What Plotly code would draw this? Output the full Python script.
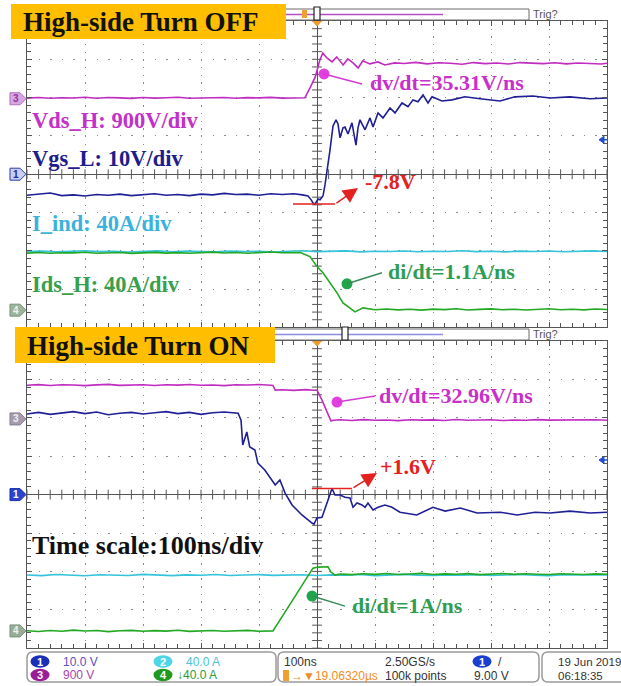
import numpy as np
import plotly.graph_objects as go

W, H = 621, 686

# ---------------- channel settings (units per division, offset in divisions) ----------------
SCALE = {"ch1": 10.0, "ch2": 40.0, "ch3": 900.0, "ch4": 40.0}
OFFSET = {"ch1": 0.0, "ch2": -3.55, "ch3": 1.97, "ch4": -3.55}

# ---------------- High-side turn OFF (time in ns) ----------------
off_t_vds = [-500, -480, -460, -440, -420, -400, -380, -360, -340, -320, -300, -280, -260,
             -240, -220, -200, -180, -160, -140, -120, -100, -80, -60, -40, -30, -21,
             -12, -3, 5, 10, 17, 26, 34, 45, 53, 62, 71, 79, 91, 105, 117, 134,
             150, 170, 190, 210, 230, 250, 270, 290, 310, 330, 350, 370, 390, 410, 430,
             450, 470, 490, 500]
off_vds = [15, 30, 10, 25, 18, 35, 12, 28, 20, 8, 30, 15, 25, 35, 10, 22, 18, 30, 12, 26,
           20, 32, 15, 25, 18, 22,
           255, 513, 913, 1077, 960, 866, 984, 795, 936, 842, 725, 890, 819, 866, 795, 842,
           830, 855, 820, 845, 835, 810, 850, 825, 840, 815, 850, 830, 825, 845, 820, 840,
           830, 815, 835]

off_t_vgs = [-500, -480, -460, -440, -420, -400, -380, -360, -340, -320, -300, -280, -260,
             -240, -220, -200, -180, -160, -140, -120, -100, -80, -60, -40, -25,
             -15.5, -10, -7, -3.4, 1.7, 5.2, 10.3, 13.8, 17.2, 22.4,
             27.6, 32.8, 36.2, 39.7, 44.8, 48.3, 53.4, 60.3, 67.2, 70.7,
             74.1, 82.8, 91.4, 96.6, 105.2, 113.8, 125.9, 134.5, 146.6, 156.9,
             165.5, 174.1, 182.8, 191.4, 198.3, 215.5, 232.8, 255, 281, 315.5,
             341, 372, 402, 436, 471, 500]
off_vgs = [-5.5, -5.2, -4.9, -5.6, -5.4, -5.7, -5.3, -5.5, -5.2, -5.6,
           -5.4, -5.1, -5.5, -5.3, -5.6, -5.2, -5.4, -5.0, -5.3, -5.2,
           -5.5, -5.1, -5.3, -5.1, -5.4,
           -5.7, -6.7, -7.5, -7.8, -6.5, -6.7, -5.7, -2.8, 0.6, 6.3,
           12.6, 14.2, 13.1, 9.5, 12.1, 12.3, 10.5, 13.4, 7.6, 12.1,
           14.2, 11.6, 14.7, 12.3, 16.0, 14.7, 17.3, 16.0, 18.6, 17.6,
           19.4, 18.9, 20.7, 18.6, 20.2, 19.1, 19.4, 20.2, 19.7, 19.1,
           20.2, 20.4, 19.9, 20.2, 19.7, 19.9]

t_step25 = [-500, -475, -450, -425, -400, -375, -350, -325, -300, -275, -250, -225, -200,
            -175, -150, -125, -100, -75, -50, -25, 0, 25, 50, 75, 100, 125, 150, 175, 200,
            225, 250, 275, 300, 325, 350, 375, 400, 425, 450, 475, 500]
off_iind = [61.2, 61.8, 60.9, 61.5, 62.0, 61.1, 61.6, 60.8, 61.4, 61.9,
            61.0, 61.7, 61.3, 60.9, 61.8, 61.2, 61.5, 60.8, 61.6, 62.0,
            61.1, 61.4, 61.9, 60.9, 61.5, 61.2, 61.8, 61.0, 61.6, 61.3,
            62.0, 61.1, 61.5, 60.9, 61.7, 61.2, 61.8, 61.0, 61.4, 61.9, 61.3]

off_t_ids = [-500, -480, -460, -440, -420, -400, -380, -360, -340, -320, -300, -280, -260,
             -240, -220, -200, -180, -160, -140, -120, -100, -80, -60, -40, -29,
             -12.1, 0, 10.3, 22.4, 34.5, 44.8, 56.9, 65.5, 79.3,
             100, 120, 140, 160, 180, 200, 220, 240, 260, 280, 300, 320, 340, 360, 380,
             400, 420, 440, 460, 480, 500]
off_ids = [59.6, 60.2, 59.4, 60.0, 59.8, 60.5, 59.5, 59.9, 60.3, 59.3,
           59.8, 60.4, 59.6, 60.1, 59.4, 60.0, 60.6, 59.7, 60.2, 59.5,
           60.0, 60.7, 59.9, 60.4, 60.2,
           56.0, 45.5, 39.0, 28.5, 18.1, 7.6, 2.4, -1.8, 2.4,
           0.5, 1.2, 0.3, 0.9, 0.0, 1.1, 0.6, 1.4, 0.2, 0.8,
           1.3, 0.4, 1.0, 0.1, 0.9, 1.5, 0.5, 1.0, 0.3, 1.2, 0.7]

# ---------------- High-side turn ON (time in ns) ----------------
on_t_vds = [-500, -480, -460, -440, -420, -400, -380, -360, -340, -320, -300, -280, -260,
            -240, -220, -200, -180, -160, -140, -120, -100, -80,
            -76, -72, -60, -40, -20, -5, 0, 8.6, 17.2, 24.1, 28,
            40, 60, 80, 100, 120, 140, 160, 180, 200, 220, 240, 260, 280, 300, 320, 340,
            360, 380, 400, 420, 440, 460, 480, 500]
on_vds = [790, 805, 785, 800, 795, 780, 798, 810, 788, 795, 802, 785, 800, 792, 808, 790,
          796, 782, 800, 794, 806, 790,
          785, 676, 684, 670, 688, 672, 676, 442, 160, -50, -30,
          -20, -35, -15, -30, -25, -40, -18, -28, -22, -35, -12, -30, -25, -20, -38, -24,
          -30, -15, -28, -22, -33, -26, -18, -30]

on_t_vgs = [-500, -480, -460, -440, -420, -400, -380, -360, -340, -320, -300, -280, -260,
            -240, -220, -200, -180, -160, -140,
            -136, -131, -128, -121, -116, -107, -102, -90, -78, -72,
            -64, -55, -43, -26, -8.6, -5.2, 0, 8.6, 17.2, 25.9,
            31, 39.7, 48.3, 56.9, 62.1, 69, 77.6, 82.8, 87.9, 96.6,
            105.2, 117.2, 129.3, 143, 172, 200, 221, 247, 276, 316,
            345, 376, 402, 436, 471, 500]
on_vgs = [21.0, 21.4, 20.9, 21.3, 21.6, 21.1, 21.5, 20.8, 21.2, 21.4,
          21.0, 21.3, 21.6, 21.1, 21.4, 20.9, 21.3, 21.5, 21.2,
          21.2, 19.4, 12.9, 16.3, 12.4, 11.6, 8.2, 6.4, 3.8, 2.5,
          3.8, 0.4, -2.7, -5.3, -7.4, -7.7, -6.1, -5.9, -2.2, 1.6,
          -0.1, -0.1, -0.7, -0.9, -3.3, -2.2, -2.7, -3.3, -2.2, -4.0,
          -3.3, -2.7, -3.3, -4.6, -5.3, -3.3, -4.3, -3.5, -4.8, -4.6,
          -5.3, -4.6, -4.8, -4.3, -4.8, -4.6]

on_iind = [58.3, 57.6, 58.7, 58.0, 57.5, 58.5, 58.1, 57.8, 58.9, 58.2,
           57.6, 58.4, 58.0, 58.8, 57.7, 58.3, 58.6, 57.9, 58.1, 58.5,
           57.8, 58.4, 58.0, 58.7, 57.6, 58.2, 58.9, 58.1, 57.7, 58.4,
           58.0, 58.6, 57.9, 58.3, 58.8, 58.0, 57.6, 58.5, 58.2, 57.9, 58.3]

on_t_ids = [-500, -480, -460, -440, -420, -400, -380, -360, -340, -320, -300, -280, -260,
            -240, -220, -200, -180, -160, -140, -120, -100, -80,
            -76, -59, -41, -24, -7, 2, 19, 24, 31,
            40, 60, 80, 100, 120, 140, 160, 180, 200, 220, 240, 260, 280, 300, 320, 340,
            360, 380, 400, 420, 440, 460, 480, 500]
on_ids = [0.2, -0.6, 0.5, -0.3, 0.8, -0.1, 0.4, -0.7, 0.1, 0.6,
          -0.4, 0.3, -0.2, 0.7, -0.5, 0.2, 0.5, -0.4, 0.0, 0.6, -0.3, 0.3,
          0.0, 16.0, 33.0, 48.5, 65.4, 66.5, 66.8, 61.3, 58.1,
          59.2, 58.6, 59.5, 58.9, 59.8, 58.7, 59.3, 59.9, 58.8, 59.4,
          59.0, 59.7, 58.6, 59.3, 59.8, 58.9, 59.5, 59.1, 58.7, 59.6,
          59.2, 58.8, 59.4, 59.0]

# annotated values
off_vgs_min = -7.8
on_vgs_peak = 1.6
trig_level = 9.0

for a, b in [(off_t_vds, off_vds), (off_t_vgs, off_vgs), (t_step25, off_iind),
             (off_t_ids, off_ids), (on_t_vds, on_vds), (on_t_vgs, on_vgs),
             (t_step25, on_iind), (on_t_ids, on_ids)]:
    assert len(a) == len(b), (len(a), len(b))

# ---------------- colours ----------------
C1 = "#1f1f96"      # ch1 navy
C2 = "#34c3da"      # ch2 cyan
C3 = "#c02cc0"      # ch3 magenta
C4 = "#22a822"      # ch4 green
RED = "#e3211f"
GRID = "#8a8a8a"
FRAME = "#555555"
SERIF = "Liberation Serif"
SANS = "Liberation Sans"


def xp(x):
    return x / W


def yp(y):
    return 1 - y / H


# plot panels (pixel boundaries)
LEFT, RIGHT = 27, 607
TOP_PANEL = (21.0, 327.4)
BOT_PANEL = (341.0, 648.2)


def ch_range(ch):
    return [(-4 - OFFSET[ch]) * SCALE[ch], (4 - OFFSET[ch]) * SCALE[ch]]


fig = go.Figure()

# y axis ids per panel: grid, ch1, currents (ch2/ch4), ch3
panels = {
    "top": dict(x="x", grid="y", ch1="y3", cur="y4", ch3="y5"),
    "bot": dict(x="x2", grid="y2", ch1="y6", cur="y7", ch3="y8"),
}

series = {
    "top": [("cur", t_step25, off_iind, C2), ("cur", off_t_ids, off_ids, C4),
            ("ch3", off_t_vds, off_vds, C3), ("ch1", off_t_vgs, off_vgs, C1)],
    "bot": [("cur", t_step25, on_iind, C2), ("cur", on_t_ids, on_ids, C4),
            ("ch3", on_t_vds, on_vds, C3), ("ch1", on_t_vgs, on_vgs, C1)],
}

# center-line tick marks
tick_x = np.arange(-500, 501, 20)
tick_y = np.arange(-4, 4.001, 0.2)
for key, ax in panels.items():
    fig.add_trace(go.Scatter(x=tick_x, y=np.zeros_like(tick_x, dtype=float), mode="markers",
                             xaxis=ax["x"], yaxis=ax["grid"], hoverinfo="skip",
                             marker=dict(symbol="line-ns", size=7,
                                         line=dict(width=1, color=FRAME))))
    fig.add_trace(go.Scatter(x=np.zeros_like(tick_y), y=tick_y, mode="markers",
                             xaxis=ax["x"], yaxis=ax["grid"], hoverinfo="skip",
                             marker=dict(symbol="line-ew", size=7,
                                         line=dict(width=1, color=FRAME))))
    for grp, t, v, col in series[key]:
        fig.add_trace(go.Scatter(x=t, y=v, mode="lines", xaxis=ax["x"], yaxis=ax[grp],
                                 line=dict(color=col, width=1.6), hoverinfo="skip"))

# ---------------- axes ----------------
def grid_x(domain_y_anchor):
    return dict(domain=[xp(LEFT), xp(RIGHT)], range=[-500, 500], anchor=domain_y_anchor,
                showgrid=True, gridcolor=GRID, griddash="1.4px,6.26px", gridwidth=1,
                dtick=100, tick0=0, showticklabels=False,
                ticks="inside", ticklen=5, tickcolor=FRAME,
                minor=dict(dtick=20, ticks="inside", ticklen=4, tickcolor=FRAME, showgrid=False),
                showline=True, linecolor=FRAME, linewidth=1, mirror="ticks",
                zeroline=True, zerolinecolor=FRAME, zerolinewidth=1, fixedrange=True)


def grid_y(px_range, anchor):
    return dict(domain=[yp(px_range[1]), yp(px_range[0])], range=[-4, 4], anchor=anchor,
                showgrid=True, gridcolor=GRID, griddash="1.4px,10.2px", gridwidth=1,
                dtick=1, tick0=0, showticklabels=False,
                ticks="inside", ticklen=5, tickcolor=FRAME,
                minor=dict(dtick=0.2, ticks="inside", ticklen=4, tickcolor=FRAME, showgrid=False),
                showline=True, linecolor=FRAME, linewidth=1, mirror="ticks",
                zeroline=True, zerolinecolor=FRAME, zerolinewidth=1, fixedrange=True)


def ch_axis(ch, over, anchor):
    return dict(overlaying=over, anchor=anchor, range=ch_range(ch), visible=False,
                showgrid=False, zeroline=False, fixedrange=True)


fig.update_layout(
    width=W, height=H, margin=dict(l=0, r=0, t=0, b=0),
    paper_bgcolor="white", plot_bgcolor="white", showlegend=False,
    xaxis=grid_x("y"), yaxis=grid_y(TOP_PANEL, "x"),
    xaxis2=grid_x("y2"), yaxis2=grid_y(BOT_PANEL, "x2"),
    yaxis3=ch_axis("ch1", "y", "x"), yaxis4=ch_axis("ch4", "y", "x"),
    yaxis5=ch_axis("ch3", "y", "x"),
    yaxis6=ch_axis("ch1", "y2", "x2"), yaxis7=ch_axis("ch4", "y2", "x2"),
    yaxis8=ch_axis("ch3", "y2", "x2"),
)

shapes = []
ann = []


def text(x, y, s, size, color, family=SANS, anchor="left", bold=False, ref=None):
    if ref is None:
        ref = ("paper", "paper")
        x, y = xp(x), yp(y)
    ann.append(dict(x=x, y=y, xref=ref[0], yref=ref[1], text=f"<b>{s}</b>" if bold else s,
                    showarrow=False, xanchor=anchor, yanchor="middle", borderpad=0,
                    font=dict(family=family, size=size, color=color)))


def rect(x0, y0, x1, y1, fill, line=None, lw=1):
    shapes.append(dict(type="rect", xref="paper", yref="paper", x0=xp(x0), x1=xp(x1),
                       y0=yp(y1), y1=yp(y0), fillcolor=fill, layer="above",
                       line=dict(color=line or fill, width=lw if line else 0)))


def path(d_pts, fill, line=None, lw=1, closed=True):
    d = "M " + " L ".join(f"{xp(a):.5f},{yp(b):.5f}" for a, b in d_pts) + (" Z" if closed else "")
    shapes.append(dict(type="path", xref="paper", yref="paper", path=d, layer="above",
                       fillcolor=fill if closed else None,
                       line=dict(color=line or fill, width=lw)))


def rounded(x0, y0, x1, y1, r, line, lw=1.5, fill="white"):
    d = (f"M {xp(x0 + r)},{yp(y0)} L {xp(x1 - r)},{yp(y0)} Q {xp(x1)},{yp(y0)} {xp(x1)},{yp(y0 + r)} "
         f"L {xp(x1)},{yp(y1 - r)} Q {xp(x1)},{yp(y1)} {xp(x1 - r)},{yp(y1)} "
         f"L {xp(x0 + r)},{yp(y1)} Q {xp(x0)},{yp(y1)} {xp(x0)},{yp(y1 - r)} "
         f"L {xp(x0)},{yp(y0 + r)} Q {xp(x0)},{yp(y0)} {xp(x0 + r)},{yp(y0)} Z")
    shapes.append(dict(type="path", xref="paper", yref="paper", path=d, layer="above",
                       fillcolor=fill, line=dict(color=line, width=lw)))


def oval(cx, cy, w, h, fill, label):
    shapes.append(dict(type="circle", xref="paper", yref="paper", x0=xp(cx - w / 2),
                       x1=xp(cx + w / 2), y0=yp(cy + h / 2), y1=yp(cy - h / 2),
                       fillcolor=fill, line=dict(color=fill, width=0), layer="above"))
    text(cx, cy, label, 11, "white", anchor="center", bold=True)


# ---------------- acquisition status bars above each panel ----------------
for top, line_col, brk in [(TOP_PANEL[0], "#b44cc4", 317), (BOT_PANEL[0], "#8c8ce0", 345)]:
    rect(255, top - 12, 529, top - 1, "white", "#6a6a6a", 1)
    path([(255, top - 6.5), (443, top - 6.5)], None, line_col, 1.6, closed=False)
    rect(brk - 3, top - 14, brk + 3, top - 1, "white", "#222222", 1.2)
    path([(313, top + 0.5), (321, top + 0.5), (317, top + 5)], "#f09a2a")
    text(532, top - 7, "Trig?", 11, "#555555")
rect(302, TOP_PANEL[0] - 11, 307, TOP_PANEL[0] - 3, "#f0a030")

# ---------------- title boxes ----------------
rect(11, 4, 286, 39, "#ffbe00")
text(22, 22, "High-side Turn OFF", 27, "#111111", family=SERIF, bold=True)
rect(15, 327, 275, 363, "#ffbe00")
text(26, 345.5, "High-side Turn ON", 27, "#111111", family=SERIF, bold=True)
text(31, 545, "Time scale:100ns/div", 26, "#111111", family=SERIF, bold=True)

# ---------------- channel captions ----------------
text(31, 120, "Vds_H: 900V/div", 22.5, "#c231c8", family=SERIF, bold=True)
text(31, 158, "Vgs_L: 10V/div", 22.5, "#1d1d8c", family=SERIF, bold=True)
text(31, 223, "I_ind: 40A/div", 22.5, "#3ab2dc", family=SERIF, bold=True)
text(31, 284, "Ids_H: 40A/div", 22.5, "#37a04c", family=SERIF, bold=True)


# ---------------- channel ground markers on the left ----------------
def ch_marker(ch, panel_px, fill, edge, label, txtcol):
    top, bot = panel_px
    center = (top + bot) / 2
    div = (bot - top) / 8
    y = center - OFFSET[ch] * div
    path([(10, y - 6), (20, y - 6), (26, y), (20, y + 6), (10, y + 6)], fill, edge, 1)
    text(16, y, label, 10, txtcol, anchor="center", bold=True)


ch_marker("ch3", TOP_PANEL, "#d9a6e2", "#b070c0", "3", "#8a3a9a")
ch_marker("ch1", TOP_PANEL, "#c9cff2", "#2a3cb0", "1", "#1d2a9a")
ch_marker("ch4", TOP_PANEL, "#9db59d", "#7a947a", "4", "#f0f0f0")
ch_marker("ch3", BOT_PANEL, "#a79cae", "#8a7e92", "3", "#f0f0f0")
ch_marker("ch1", BOT_PANEL, "#2a44cf", "#1a2ea8", "1", "white")
ch_marker("ch4", BOT_PANEL, "#97ad97", "#7a947a", "4", "#f0f0f0")

# trigger level markers on the right edge (ch1 level)
for panel_px in (TOP_PANEL, BOT_PANEL):
    top, bot = panel_px
    y = (top + bot) / 2 - trig_level / SCALE["ch1"] * (bot - top) / 8
    path([(599, y), (604, y - 3.5), (604, y + 3.5)], "#2050d0")
    path([(603, y), (607, y)], None, "#2050d0", 1.5, closed=False)

# ---------------- event annotations ----------------
def dot(t, v, xa, ya, color):
    fig.add_trace(go.Scatter(x=[t], y=[v], xaxis=xa, yaxis=ya, mode="markers",
                             hoverinfo="skip", marker=dict(size=11, color=color)))


def leader(t0, v0, t1, v1, xa, ya, color, width=1.5):
    shapes.append(dict(type="line", xref=xa, yref=ya, x0=t0, y0=v0, x1=t1, y1=v1,
                       line=dict(color=color, width=width), layer="above"))


def arrow(t_tail, v_tail, t_tip, v_tip, xa, ya):
    ann.append(dict(x=t_tip, y=v_tip, xref=xa, yref=ya, ax=t_tail, ay=v_tail,
                    axref=xa, ayref=ya, text="", showarrow=True, arrowhead=2,
                    arrowsize=2.0, arrowwidth=1.5, arrowcolor=RED, standoff=0))


def label(t, v, s, xa, ya, color):
    text(t, v, s, 22, color, family=SERIF, bold=True, ref=(xa, ya))


# turn-off
dot(12.1, 584, "x", "y5", "#e23fe0")
leader(12.1, 584, 77.6, 349, "x", "y5", "#d43ad4")
label(90, 372, "dv/dt=35.31V/ns", "x", "y5", "#c92fc9")
leader(-41.4, off_vgs_min, 31, off_vgs_min, "x", "y3", RED)
arrow(31, off_vgs_min, 70.7, -3.6, "x", "y3")
label(81, -1.8, "-7.8V", "x", "y3", RED)
dot(51.7, 27.5, "x", "y4", "#1fa64a")
leader(51.7, 27.5, 112, 39, "x", "y4", "#3a8a5a")
label(120, 40, "di/dt=1.1A/ns", "x", "y4", "#2e9e55")

# turn-on
dot(34.5, 395, "x2", "y8", "#e23fe0")
leader(34.5, 395, 100, 537, "x2", "y8", "#d43ad4")
label(105, 559, "dv/dt=32.96V/ns", "x2", "y8", "#c92fc9")
leader(-8.6, on_vgs_peak, 60.3, on_vgs_peak, "x2", "y6", RED)
arrow(60.3, on_vgs_peak, 103.4, 5.6, "x2", "y6")
label(107, 7.2, "+1.6V", "x2", "y6", RED)
dot(-8.6, 36.3, "x2", "y7", "#1fa64a")
leader(-8.6, 36.3, 48.3, 25.8, "x2", "y7", "#3a8a5a")
label(58, 26.9, "di/dt=1A/ns", "x2", "y7", "#2e9e55")

# ---------------- scope readout bar ----------------
rounded(27, 652, 276, 682, 6, "#9a9a9a")
rounded(278, 652, 539, 682, 6, "#9a9a9a")
rounded(542, 652, 640, 682, 6, "#9a9a9a")

oval(40, 661.5, 19, 12.5, "#1a2fb8", "1")
text(62, 661.5, "10.0 V", 12, "#5a50c0")
oval(40, 675, 19, 12.5, "#9a1e9a", "3")
text(62, 675, "900 V", 12, "#a845a8")
oval(163, 661.5, 19, 12.5, "#4fd6e6", "2")
text(185, 661.5, "40.0 A", 12, "#4cc4d8")
oval(163, 675, 19, 12.5, "#1e9a1e", "4")
text(176, 675, "↓40.0 A", 12, "#2a9a3a")

text(283, 661.5, "100ns", 12, "#333333")
rect(283, 670, 289, 681, "#f0a030")
text(290, 675.5, "→▼19.06320µs", 12, "#f08c28")
text(384, 661.5, "2.50GS/s", 12, "#333333")
text(384, 675.5, "100k points", 12, "#333333")
oval(482, 661.5, 19, 12.5, "#1a3fd0", "1")
text(497, 661.5, "/", 12, "#333333")
text(473, 675.5, "9.00 V", 12, "#333333")
text(557, 661.5, "19 Jun 2019", 11.5, "#333333")
text(557, 675.5, "06:18:35", 11.5, "#333333")

fig.update_layout(shapes=shapes, annotations=ann)
fig.write_html("out.html")
